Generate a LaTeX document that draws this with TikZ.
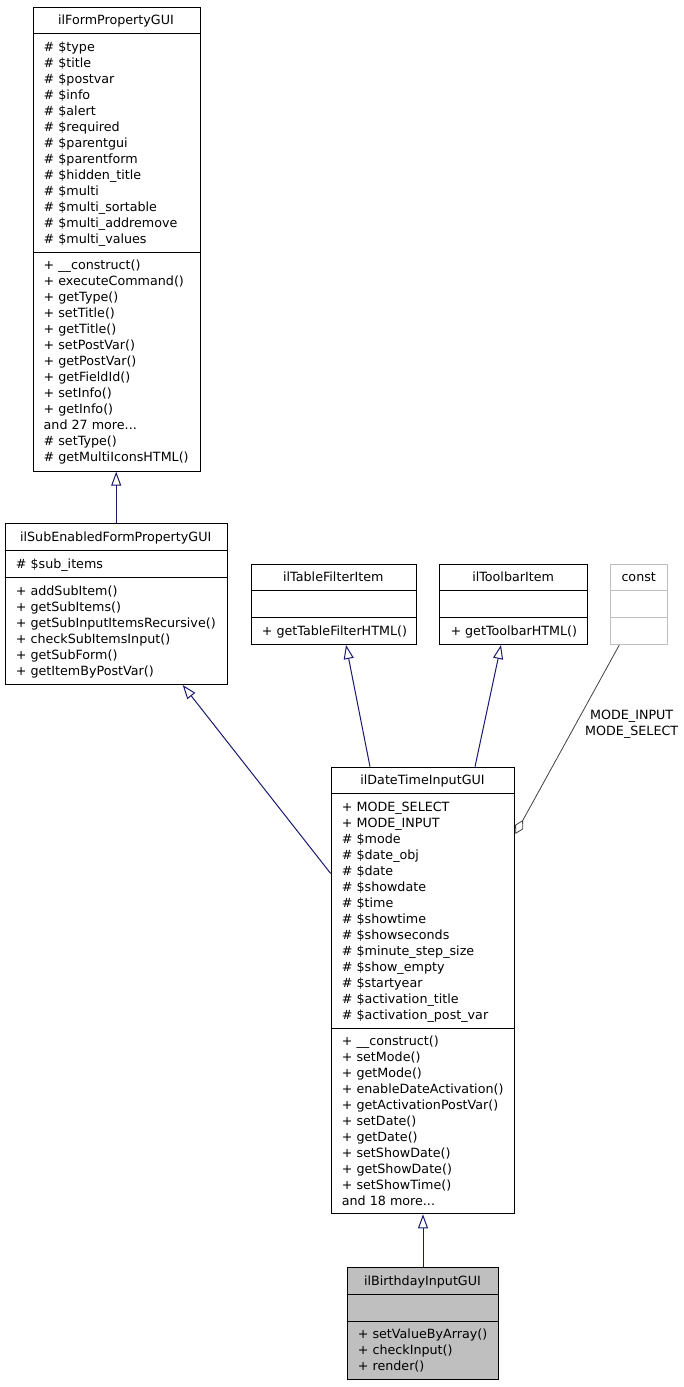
\documentclass[tikz,border=0pt]{standalone}
\usepackage{fontspec}
\setmainfont{DejaVu Sans}
\usetikzlibrary{arrows.meta}
\definecolor{inhc}{HTML}{191970}
\definecolor{gry}{HTML}{BFBFBF}
\definecolor{usec}{HTML}{404040}
\newcommand\tdots{...}
\begin{document}
\begin{tikzpicture}[x=1pt,y=-1pt,
  box/.style={draw=black, line width=1pt, rectangle, inner sep=0pt, anchor=north west},
  sep/.style={draw=black, line width=1pt},
  txt/.style={inner sep=0pt, anchor=base west, font=\fontsize{12.7}{16}\selectfont},
  ttl/.style={inner sep=0pt, anchor=base, font=\fontsize{12.7}{16}\selectfont},
  lbl/.style={inner sep=0pt, align=center, font=\fontsize{12.7}{16}\selectfont},
  inh/.style={draw=inhc, line width=1pt, -{Triangle[open,length=14pt,width=10pt]}},
  usel/.style={draw=usec, line width=0.8pt, -{Diamond[open,length=16pt,width=9pt]}}]
\useasboundingbox (0,0) rectangle (684,1387);

% ilFormPropertyGUI
\node[box, minimum width=167pt, minimum height=463.4pt] (F) at (32.5,7.3) {};
\draw[sep] (32.5,33.3) -- (199.5,33.3);
\draw[sep] (32.5,252.3) -- (199.5,252.3);
\node[ttl] (Ft) at (116,24.8) {ilFormPropertyGUI};
\foreach \t [count=\i from 0] in {\# \$type,\# \$title,\# \$postvar,\# \$info,\# \$alert,\# \$required,\# \$parentgui,\# \$parentform,\# \$hidden\_title,\# \$multi,\# \$multi\_sortable,\# \$multi\_addremove,\# \$multi\_values}
  \node[txt] (Fa\i) at (43.5,51.2+16*\i) {\t};
\foreach \t [count=\i from 0] in {+ \_\_construct(),+ executeCommand(),+ getType(),+ setTitle(),+ getTitle(),+ setPostVar(),+ getPostVar(),+ getFieldId(),+ setInfo(),+ getInfo(),{and 27 more\tdots},\# setType(),\# getMultiIconsHTML()}
  \node[txt] (Fm\i) at (43.5,269.2+16*\i) {\t};

% ilSubEnabledFormPropertyGUI
\node[box, minimum width=222pt, minimum height=160.7pt] (S) at (4.7,523.3) {};
\draw[sep] (4.7,550.3) -- (226.7,550.3);
\draw[sep] (4.7,577.3) -- (226.7,577.3);
\node[ttl] (St) at (115.7,541.3) {ilSubEnabledFormPropertyGUI};
\node[txt] (Sa0) at (15.7,568) {\# \$sub\_items};
\foreach \t [count=\i from 0] in {+ addSubItem(),+ getSubItems(),+ getSubInputItemsRecursive(),+ checkSubItemsInput(),+ getSubForm(),+ getItemByPostVar()}
  \node[txt] (Sm\i) at (15.7,595+16*\i) {\t};

% ilTableFilterItem
\node[box, minimum width=165.3pt, minimum height=80pt] (T) at (250.7,564) {};
\draw[sep] (250.7,590.7) -- (416,590.7);
\draw[sep] (250.7,617.7) -- (416,617.7);
\node[ttl] (Tt) at (333.3,581.5) {ilTableFilterItem};
\node[txt] (Tm0) at (261.7,635.3) {+ getTableFilterHTML()};

% ilToolbarItem
\node[box, minimum width=147.7pt, minimum height=80pt] (B) at (439.3,564) {};
\draw[sep] (439.3,590.7) -- (587,590.7);
\draw[sep] (439.3,617.7) -- (587,617.7);
\node[ttl] (Bt) at (513.1,581.5) {ilToolbarItem};
\node[txt] (Bm0) at (450.3,635.3) {+ getToolbarHTML()};

% const
\node[box, draw=gry, minimum width=57.3pt, minimum height=80pt] (C) at (610,564) {};
\draw[sep, draw=gry] (610,590.7) -- (667.3,590.7);
\draw[sep, draw=gry] (610,617.7) -- (667.3,617.7);
\node[ttl] (Ct) at (638.7,581.5) {const};

% ilDateTimeInputGUI
\node[box, minimum width=183.6pt, minimum height=446.6pt] (D) at (330.7,766.7) {};
\draw[sep] (330.7,793) -- (514.3,793);
\draw[sep] (330.7,1028.3) -- (514.3,1028.3);
\node[ttl] (Dt) at (422.5,784.5) {ilDateTimeInputGUI};
\foreach \t [count=\i from 0] in {+ MODE\_SELECT,+ MODE\_INPUT,\# \$mode,\# \$date\_obj,\# \$date,\# \$showdate,\# \$time,\# \$showtime,\# \$showseconds,\# \$minute\_step\_size,\# \$show\_empty,\# \$startyear,\# \$activation\_title,\# \$activation\_post\_var}
  \node[txt] (Da\i) at (341.7,811.2+16*\i) {\t};
\foreach \t [count=\i from 0] in {+ \_\_construct(),+ setMode(),+ getMode(),+ enableDateActivation(),+ getActivationPostVar(),+ setDate(),+ getDate(),+ setShowDate(),+ getShowDate(),+ setShowTime(),{and 18 more\tdots}}
  \node[txt] (Dm\i) at (341.7,1045.2+16*\i) {\t};

% ilBirthdayInputGUI
\node[box, fill=gry, minimum width=151.6pt, minimum height=112pt] (G) at (346.7,1267.3) {};
\draw[sep] (346.7,1294.3) -- (498.3,1294.3);
\draw[sep] (346.7,1321.7) -- (498.3,1321.7);
\node[ttl] (Gt) at (422.5,1285.3) {ilBirthdayInputGUI};
\foreach \t [count=\i from 0] in {+ setValueByArray(),+ checkInput(),+ render()}
  \node[txt] (Gm\i) at (357.7,1338.8+16*\i) {\t};

% connectors
\draw[inh] (S.north) -- (S.north |- F.south);
\draw[inh] ([yshift=117pt]D.west) -- ([xshift=-45pt]S.south east);
\draw[inh] ([xshift=39.3pt]D.north west) -- ([xshift=95.3pt]T.south west);
\draw[inh] ([xshift=144.3pt]D.north west) -- ([xshift=61.7pt]B.south west);
\draw[inh] (G.north) -- (G.north |- D.south);
\draw[usel] ([xshift=9.3pt]C.south west) -- ([yshift=-67.3pt]D.north east);
\node[lbl] (lab) at (631.7,724.7) {MODE\_INPUT\\MODE\_SELECT};
\end{tikzpicture}
\end{document}
